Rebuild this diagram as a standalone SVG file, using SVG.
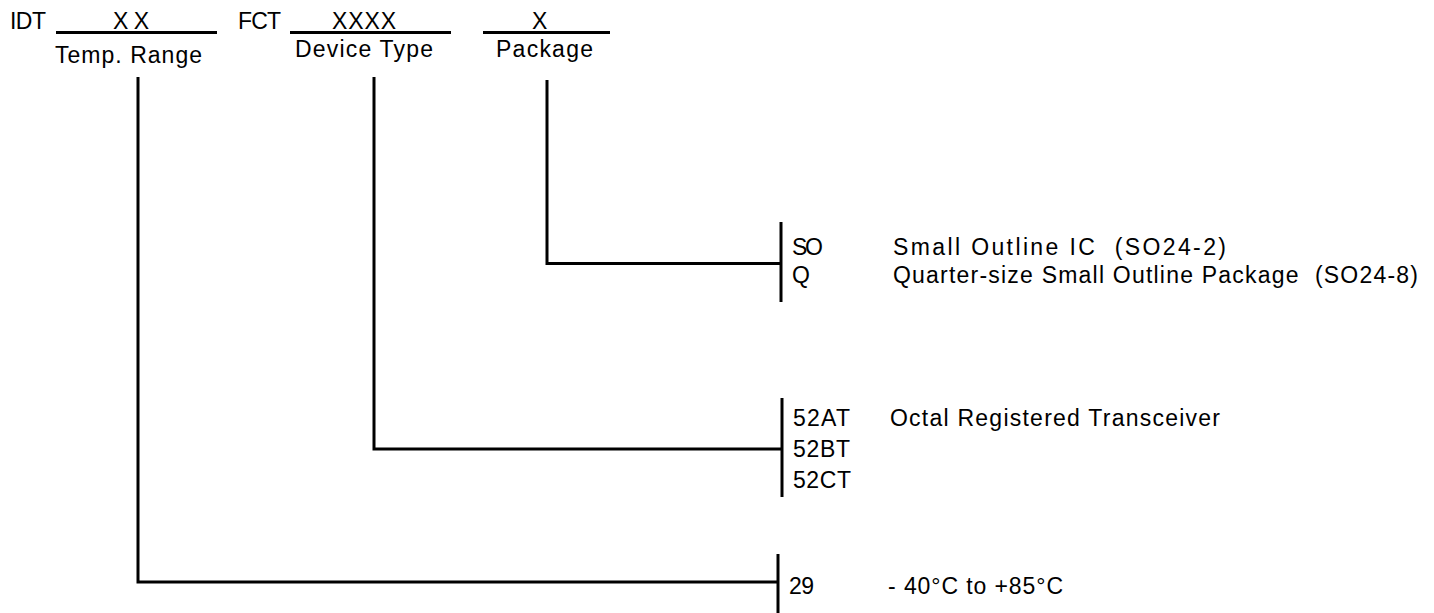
<svg xmlns="http://www.w3.org/2000/svg" width="1434" height="613" viewBox="0 0 1434 613">
<style>
text{font-family:"Liberation Sans",Arial,sans-serif;fill:#000}
.h{font-size:23px}
.b{font-size:23px}
.ln{stroke:#000;stroke-width:3;fill:none}
</style>
<rect width="1434" height="613" fill="#fff"/>
<g id="header">
<text class="h" x="10" y="29" textLength="36" lengthAdjust="spacing">IDT</text>
<line class="ln" x1="56" y1="32.5" x2="217" y2="32.5"/>
<text class="h" x="113" y="29" textLength="36" lengthAdjust="spacing">XX</text>
<text class="h" x="238" y="29" textLength="43" lengthAdjust="spacing">FCT</text>
<line class="ln" x1="290" y1="32.5" x2="451" y2="32.5"/>
<text class="h" x="332" y="29" textLength="64" lengthAdjust="spacing">XXXX</text>
<line class="ln" x1="483" y1="32.5" x2="610" y2="32.5"/>
<text class="h" x="532" y="29" textLength="15" lengthAdjust="spacing">X</text>
</g>
<g id="temp-range">
<text class="h" x="55" y="63" textLength="147" lengthAdjust="spacing">Temp. Range</text>
</g>
<g id="device-type">
<text class="h" x="295" y="57" textLength="138" lengthAdjust="spacing">Device Type</text>
</g>
<g id="package">
<text class="h" x="496" y="57" textLength="97" lengthAdjust="spacing">Package</text>
</g>
<g id="connectors">
<polyline class="ln" points="138,77 138,582 778,582"/>
<polyline class="ln" points="374,77 374,449 782,449"/>
<polyline class="ln" points="547,80 547,263.5 781,263.5"/>
</g>
<g id="package-options">
<line class="ln" x1="781" y1="222" x2="781" y2="302"/>
<text class="b" x="792" y="255" textLength="31" lengthAdjust="spacing">SO</text>
<text class="b" x="893" y="255" textLength="333" lengthAdjust="spacing" xml:space="preserve">Small Outline IC  (SO24-2)</text>
<text class="b" x="792" y="283">Q</text>
<text class="b" x="893" y="283" textLength="525" lengthAdjust="spacing" xml:space="preserve">Quarter-size Small Outline Package  (SO24-8)</text>
</g>
<g id="device-options">
<line class="ln" x1="782" y1="398" x2="782" y2="497"/>
<text class="b" x="793" y="426" textLength="57" lengthAdjust="spacing">52AT</text>
<text class="b" x="890" y="426" textLength="330" lengthAdjust="spacing">Octal Registered Transceiver</text>
<text class="b" x="793" y="457" textLength="57" lengthAdjust="spacing">52BT</text>
<text class="b" x="793" y="488" textLength="58" lengthAdjust="spacing">52CT</text>
</g>
<g id="temp-options">
<line class="ln" x1="778" y1="554" x2="778" y2="613"/>
<text class="b" x="789" y="594" textLength="25" lengthAdjust="spacing">29</text>
<text class="b" x="888" y="594" textLength="175" lengthAdjust="spacing">- 40°C to +85°C</text>
</g>
</svg>
